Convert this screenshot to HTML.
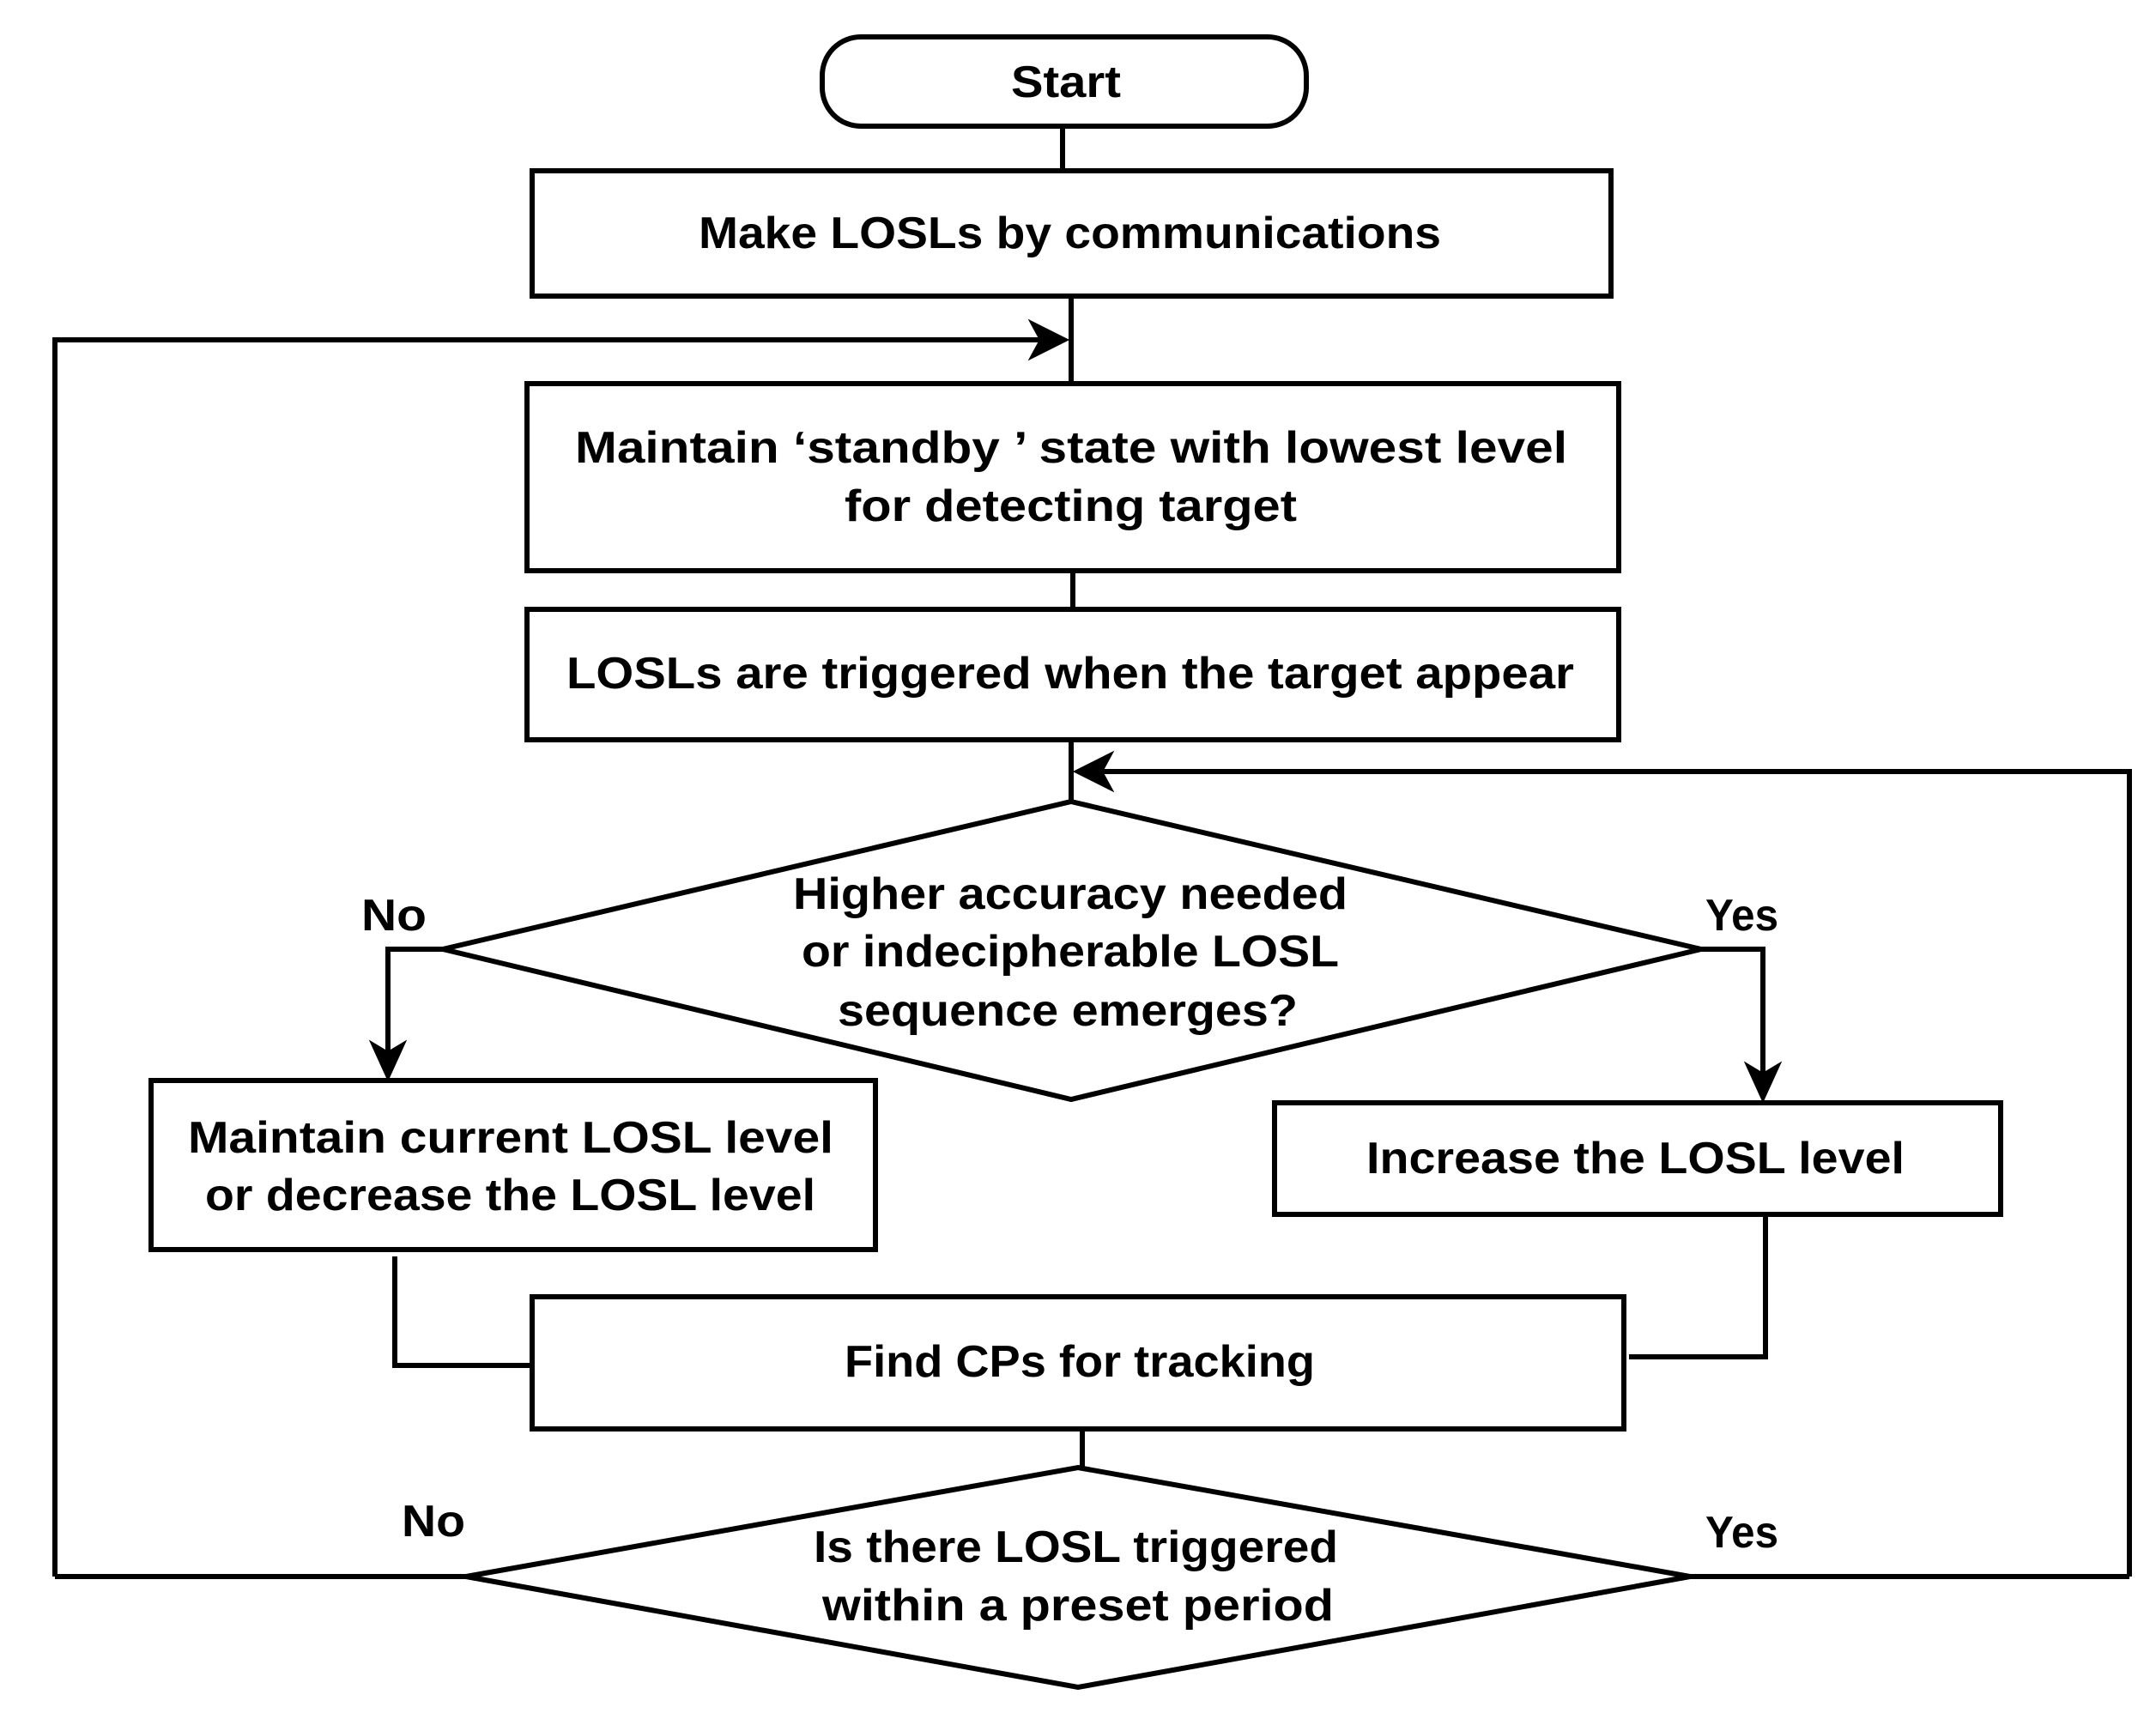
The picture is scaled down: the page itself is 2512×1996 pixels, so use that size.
<!DOCTYPE html>
<html><head><meta charset="utf-8"><style>html,body{margin:0;padding:0;background:#fff}svg{display:block}</style></head>
<body>
<svg width="2512" height="1996" viewBox="0 0 2512 1996" xmlns="http://www.w3.org/2000/svg">
<g fill="none" stroke="#000" stroke-width="6">
<rect x="958" y="43" width="564" height="104" rx="45"/>
<line x1="1238" y1="147" x2="1238" y2="199"/>
<rect x="620" y="199" width="1257" height="146"/>
<line x1="1248" y1="345" x2="1248" y2="447"/>
<polyline points="64,1837 64,396 1230,396"/>
<rect x="614" y="447" width="1272" height="218"/>
<line x1="1250" y1="665" x2="1250" y2="710"/>
<rect x="614" y="710" width="1272" height="152"/>
<line x1="1248" y1="862" x2="1248" y2="934"/>
<polyline points="2481,1837 2481,899 1266,899"/>
<polygon points="1248,934 1982,1106 1248,1281 516,1106"/>
<polyline points="516,1106 452,1106 452,1245"/>
<polyline points="1982,1106 2054,1106 2054,1270"/>
<rect x="176" y="1259" width="844" height="197"/>
<rect x="1485" y="1285" width="846" height="130"/>
<polyline points="460,1464 460,1591 620,1591"/>
<polyline points="2057,1415 2057,1581 1898,1581"/>
<rect x="620" y="1511" width="1272" height="154"/>
<line x1="1261" y1="1665" x2="1261" y2="1710"/>
<polygon points="1256,1710 1969,1837 1256,1966 543,1837"/>
<line x1="543" y1="1837" x2="64" y2="1837"/>
<line x1="1969" y1="1837" x2="2481" y2="1837"/>
</g>
<g fill="#000" stroke="#000" stroke-width="2">
<polygon points="1244,396 1200,374 1212,396 1200,418"/>
<polygon points="1252,899 1296,877 1284,899 1296,921"/>
<polygon points="452,1258 432,1214 452,1226 472,1214"/>
<polygon points="2054,1283 2034,1239 2054,1251 2074,1239"/>
</g>
<g font-family="Liberation Sans, sans-serif" font-weight="bold" font-size="52" fill="#000" dominant-baseline="central">
<text x="1178" y="96" textLength="128" lengthAdjust="spacingAndGlyphs">Start</text>
<text x="814" y="272" textLength="865" lengthAdjust="spacingAndGlyphs">Make LOSLs by communications</text>
<text x="670" y="522" textLength="1156" lengthAdjust="spacingAndGlyphs">Maintain ‘standby ’ state with lowest level</text>
<text x="984" y="590" textLength="527" lengthAdjust="spacingAndGlyphs">for detecting target</text>
<text x="660" y="785" textLength="1174" lengthAdjust="spacingAndGlyphs">LOSLs are triggered when the target appear</text>
<text x="924" y="1042" textLength="646" lengthAdjust="spacingAndGlyphs">Higher accuracy needed</text>
<text x="934" y="1109" textLength="626" lengthAdjust="spacingAndGlyphs">or indecipherable LOSL</text>
<text x="976" y="1178" textLength="536" lengthAdjust="spacingAndGlyphs">sequence emerges?</text>
<text x="219" y="1326" textLength="752" lengthAdjust="spacingAndGlyphs">Maintain current LOSL level</text>
<text x="239" y="1393" textLength="711" lengthAdjust="spacingAndGlyphs">or decrease the LOSL level</text>
<text x="1592" y="1350" textLength="627" lengthAdjust="spacingAndGlyphs">Increase the LOSL level</text>
<text x="984" y="1587" textLength="548" lengthAdjust="spacingAndGlyphs">Find CPs for tracking</text>
<text x="948" y="1803" textLength="611" lengthAdjust="spacingAndGlyphs">Is there LOSL triggered</text>
<text x="958" y="1871" textLength="596" lengthAdjust="spacingAndGlyphs">within a preset period</text>
<text x="421" y="1067" textLength="76" lengthAdjust="spacingAndGlyphs">No</text>
<text x="1987" y="1067" textLength="85" lengthAdjust="spacingAndGlyphs">Yes</text>
<text x="468" y="1773" textLength="74" lengthAdjust="spacingAndGlyphs">No</text>
<text x="1987" y="1786" textLength="85" lengthAdjust="spacingAndGlyphs">Yes</text>
</g>
</svg>
</body></html>
